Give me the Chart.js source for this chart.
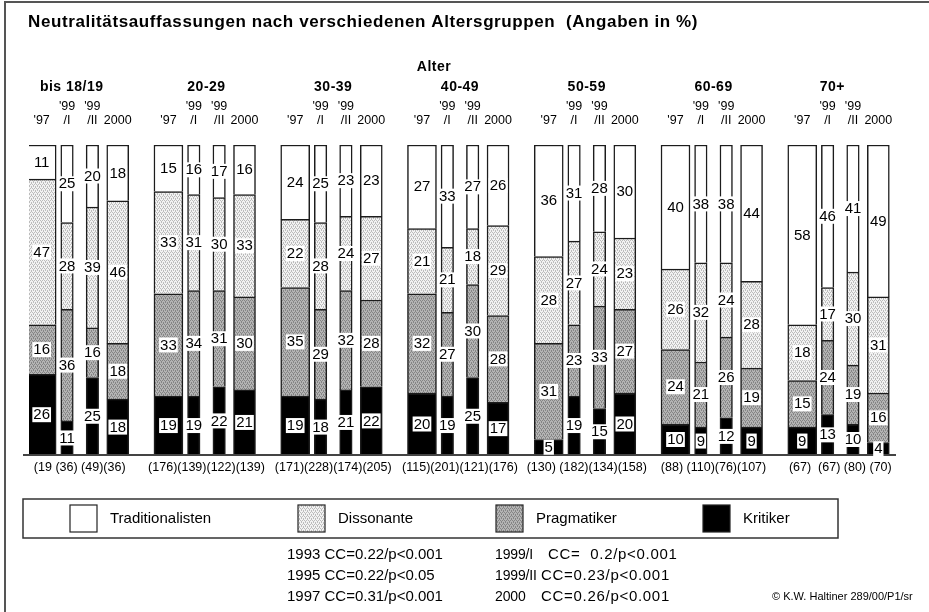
<!DOCTYPE html>
<html>
<head>
<meta charset="utf-8">
<script src="https://cdn.jsdelivr.net/npm/chart.js@4.4.1/dist/chart.umd.min.js"></script>
<style>
  html, body { margin: 0; padding: 0; background: #fff; }
  #wrap { width: 929px; height: 612px; position: relative; }
</style>
</head>
<body>
<div id="wrap"><canvas id="altersgruppen"></canvas></div>
<script>
const groups = ['bis 18/19', '20-29', '30-39', '40-49', '50-59', '60-69', '70+'];
const yearTop = ['', "'99", "'99", ''];
const yearBottom = ["'97", '/I', '/II', '2000'];
const seriesNames = ['Kritiker', 'Pragmatiker', 'Dissonante', 'Traditionalisten'];

// per group: '97, '99/I, '99/II, 2000
const kritiker =         [26, 11, 25, 18,  19, 19, 22, 21,  19, 18, 21, 22,  20, 19, 25, 17,   5, 19, 15, 20,  10,  9, 12,  9,   9, 13, 10,  4];
const pragmatiker =      [16, 36, 16, 18,  33, 34, 31, 30,  35, 29, 32, 28,  32, 27, 30, 28,  31, 23, 33, 27,  24, 21, 26, 19,  15, 24, 19, 16];
const dissonante =       [47, 28, 39, 46,  33, 31, 30, 33,  22, 28, 24, 27,  21, 21, 18, 29,  28, 27, 24, 23,  26, 32, 24, 28,  18, 17, 30, 31];
const traditionalisten = [11, 25, 20, 18,  15, 16, 17, 16,  24, 25, 23, 23,  27, 33, 27, 26,  36, 31, 28, 30,  40, 38, 38, 44,  58, 46, 41, 49];

const nLabels = ['(19 (36) (49)(36)', '(176)(139)(122)(139)', '(171)(228)(174)(205)', '(115)(201)(121)(176)',
  '(130) (182)(134)(158)', '(88) (110)(76)(107)', '(67)  (67) (80) (70)'];

const ccLeft = ['1993 CC=0.22/p<0.001', '1995 CC=0.22/p<0.05', '1997 CC=0.31/p<0.001'];
const ccRightYear = ['1999/I', '1999/II', '2000'];
const ccRightValue = ['CC=  0.2/p<0.001', 'CC=0.23/p<0.001', 'CC=0.26/p<0.001'];

const barWidths = [29, 12.5, 12.5, 22];
const headerShift = [-8, 0, 0, 0, 0, 0, -8];
const FONT = 'Arial, "Liberation Sans", sans-serif';

function makePattern(bg, dot) {
  const c = document.createElement('canvas');
  c.width = 4; c.height = 4;
  const g = c.getContext('2d');
  g.fillStyle = bg;
  g.fillRect(0, 0, 4, 4);
  g.fillStyle = dot;
  g.fillRect(0, 0, 1, 1);
  g.fillRect(2, 0, 1, 1);
  g.fillRect(1, 2, 1, 1);
  g.fillRect(3, 2, 1, 1);
  g.fillRect(1, 1, 1, 1);
  g.fillRect(3, 3, 1, 1);
  return g.createPattern(c, 'repeat');
}

const fills = ['#000000', makePattern('#b4b4b4', '#858585'), makePattern('#f2f2f2', '#bcbcbc'), '#ffffff'];
const seriesValues = [kritiker, pragmatiker, dissonante, traditionalisten];

// 5 slots per group (4 bars + gap), last gap dropped
const slotCount = groups.length * 5 - 1;
const slots = [];
for (let i = 0; i < slotCount; i++) slots.push(String(i));

const datasets = [];
yearBottom.forEach((yr, y) => {
  seriesNames.forEach((name, s) => {
    const data = new Array(slotCount).fill(null);
    groups.forEach((g, gi) => { data[gi * 5 + y] = seriesValues[s][gi * 4 + y]; });
    datasets.push({
      label: name,
      data: data,
      backgroundColor: fills[s],
      borderColor: '#1c1c1c',
      borderWidth: 1.5,
      barThickness: barWidths[y],
      stack: 'all'
    });
  });
});

function setFont(ctx, font, spacing) {
  ctx.font = font;
  ctx.letterSpacing = (spacing || 0) + 'px';
}

const framePlugin = {
  id: 'frame',
  beforeDraw(chart) {
    const ctx = chart.ctx;
    ctx.save();
    ctx.fillStyle = '#fff';
    ctx.fillRect(0, 0, chart.width, chart.height);
    ctx.strokeStyle = '#555';
    ctx.lineWidth = 2;
    ctx.beginPath();
    ctx.moveTo(chart.width, 2);
    ctx.lineTo(5, 2);
    ctx.lineTo(5, chart.height);
    ctx.stroke();
    ctx.restore();
  }
};

const textPlugin = {
  id: 'texts',
  afterDatasetsDraw(chart) {
    const ctx = chart.ctx;
    const xs = chart.scales.x;
    const area = chart.chartArea;
    ctx.save();

    // baseline
    ctx.strokeStyle = '#444';
    ctx.lineWidth = 2;
    ctx.beginPath();
    ctx.moveTo(area.left - 6, area.bottom);
    ctx.lineTo(area.right + 5, area.bottom);
    ctx.stroke();

    // value labels
    setFont(ctx, '15px ' + FONT, 0);
    ctx.textAlign = 'center';
    ctx.textBaseline = 'middle';
    chart.data.datasets.forEach((ds, i) => {
      const meta = chart.getDatasetMeta(i);
      meta.data.forEach((bar, idx) => {
        const v = ds.data[idx];
        if (v == null) return;
        const p = bar.getProps(['x', 'y', 'base'], true);
        const cy = (p.y + p.base) / 2;
        const txt = String(v);
        const w = ctx.measureText(txt).width + 2;
        ctx.fillStyle = '#fff';
        ctx.fillRect(p.x - w / 2, cy - 7.5, w, 15);
        ctx.fillStyle = '#000';
        ctx.fillText(txt, p.x, cy + 0.5);
      });
    });

    // title
    ctx.textAlign = 'left';
    setFont(ctx, 'bold 17px ' + FONT, 0.6);
    ctx.fillText('Neutralitätsauffassungen nach verschiedenen Altersgruppen  (Angaben in %)', 28, 22);
    ctx.textAlign = 'center';
    setFont(ctx, 'bold 14px ' + FONT, 0.5);
    ctx.fillText('Alter', 434, 67);

    // group and year headers, sample sizes
    groups.forEach((g, gi) => {
      const left = xs.getPixelForValue(gi * 5);
      const right = xs.getPixelForValue(gi * 5 + 3);
      const mid = (left + right) / 2;
      setFont(ctx, 'bold 14px ' + FONT, 0.5);
      ctx.fillText(g, mid + headerShift[gi], 87);
      setFont(ctx, '12.5px ' + FONT, 0);
      yearBottom.forEach((yr, y) => {
        const x = xs.getPixelForValue(gi * 5 + y);
        ctx.fillText(yearTop[y], x, 107);
        ctx.fillText(yr, x, 121);
      });
      setFont(ctx, '12.5px ' + FONT, 0);
      ctx.fillText(nLabels[gi], mid, 468);
    });

    // legend box
    ctx.strokeStyle = '#333';
    ctx.lineWidth = 1.5;
    ctx.strokeRect(23, 499, 815, 39);
    const legendX = [70, 298, 496, 703];
    const legendOrder = [3, 2, 1, 0];
    setFont(ctx, '15px ' + FONT, 0);
    ctx.textAlign = 'left';
    legendOrder.forEach((s, k) => {
      ctx.fillStyle = fills[s];
      ctx.fillRect(legendX[k], 505, 27, 27);
      ctx.strokeStyle = '#222';
      ctx.lineWidth = 1.2;
      ctx.strokeRect(legendX[k], 505, 27, 27);
      ctx.fillStyle = '#000';
      ctx.fillText(seriesNames[s], legendX[k] + 40, 519);
    });

    // statistics
    ccLeft.forEach((t, k) => ctx.fillText(t, 287, 555 + k * 21));
    setFont(ctx, '14px ' + FONT, -0.15);
    ccRightYear.forEach((t, k) => ctx.fillText(t, 495, 555 + k * 21));
    setFont(ctx, '15px ' + FONT, 0.7);
    ccRightValue.forEach((t, k) => ctx.fillText(t, k === 0 ? 548 : 541, 555 + k * 21));
    setFont(ctx, '11px ' + FONT, 0);
    ctx.fillText('© K.W. Haltiner 289/00/P1/sr', 772, 597);
    ctx.restore();
  }
};

new Chart(document.getElementById('altersgruppen'), {
  type: 'bar',
  data: { labels: slots, datasets: datasets },
  options: {
    responsive: true,
    maintainAspectRatio: false,
    animation: false,
    layout: { padding: { left: 29, right: 38, top: 145, bottom: 157 } },
    plugins: { legend: { display: false }, tooltip: { enabled: false }, title: { display: false } },
    scales: {
      x: { display: false, stacked: true, offset: true },
      y: { display: false, stacked: true, min: 0, max: 100 }
    }
  },
  plugins: [framePlugin, textPlugin]
});
</script>
</body>
</html>
